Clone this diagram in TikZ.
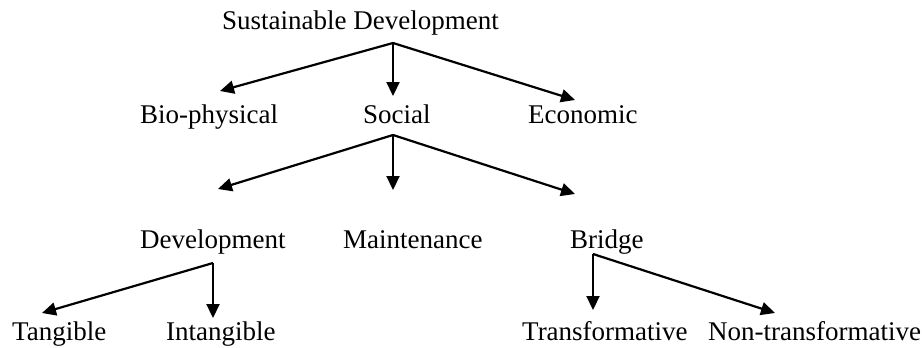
\documentclass[tikz,border=0pt]{standalone}
\usepackage{fontspec}
\setmainfont{Liberation Serif}
\usetikzlibrary{arrows.meta}
\begin{document}
\begin{tikzpicture}[x=1pt,y=-1pt,
			every node/.style={inner sep=0pt,anchor=base west,font=\fontsize{27}{32}\selectfont},
			arr/.style={-{Triangle[length=14pt,width=13pt]},line width=2.2pt}]
			\useasboundingbox (0,0) rectangle (922,348);
			
			\node (sd) at (222,30) {Sustainable Development};
			\node (bio) at (140,123) {Bio-physical};
			\node (soc) at (363,123) {Social};
			\node (eco) at (528,123) {Economic};
			\node (dev) at (140,248) {Development};
			\node (mnt) at (343,248) {Maintenance};
			\node (brg) at (570,248) {Bridge};
			\node (tan) at (12,340) {Tangible};
			\node (int) at (166,340) {Intangible};
			\node (trf) at (522,340) {Transformative};
			\node (ntf) at (708,340) {Non-transformative};
			
			% forks and arrow tips
			\coordinate (sd-f) at (393,43);
			\coordinate (bio-t) at (220,91);
			\coordinate (soc-t) at (393,96);
			\coordinate (eco-t) at (575,100);
			\coordinate (soc-f) at (393,135);
			\coordinate (dev-t) at (218,189);
			\coordinate (mnt-t) at (393,190);
			\coordinate (brg-t) at (575,194);
			\coordinate (dev-f) at (213,263);
			\coordinate (tan-t) at (42,313);
			\coordinate (int-t) at (213,318);
			\coordinate (brg-f) at (593,254);
			\coordinate (trf-t) at (593,310);
			\coordinate (ntf-t) at (775,313);
			
			\draw[arr] (sd-f) -- (bio-t);
			\draw[arr] (sd-f) -- (soc-t);
			\draw[arr] (sd-f) -- (eco-t);
			\draw[arr] (soc-f) -- (dev-t);
			\draw[arr] (soc-f) -- (mnt-t);
			\draw[arr] (soc-f) -- (brg-t);
			\draw[arr] (dev-f) -- (tan-t);
			\draw[arr] (dev-f) -- (int-t);
			\draw[arr] (brg-f) -- (trf-t);
			\draw[arr] (brg-f) -- (ntf-t);
		\end{tikzpicture}
\end{document}
